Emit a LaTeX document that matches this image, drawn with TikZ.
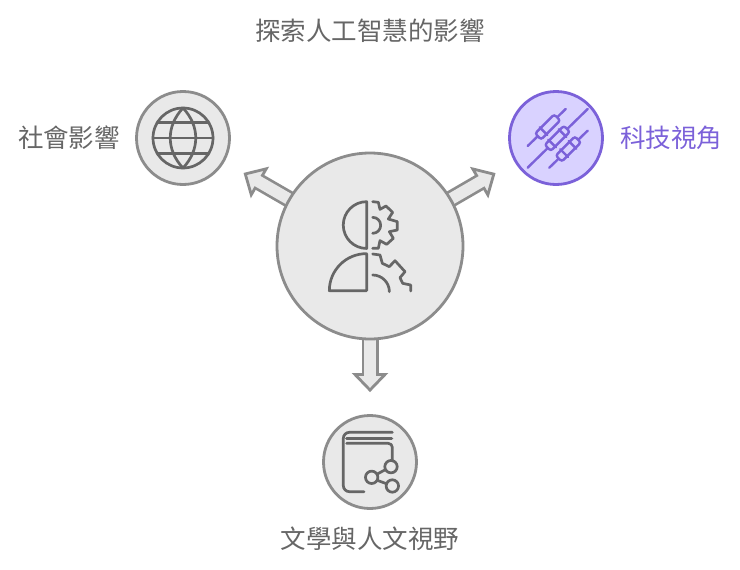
\documentclass[tikz,border=0pt]{standalone}
\usepackage{fontspec}
\setmainfont{Noto Sans CJK TC}
\usetikzlibrary{positioning}
\usetikzlibrary{arrows.meta}
\usetikzlibrary{backgrounds}
\usetikzlibrary{calc}
\definecolor{ringgray}{HTML}{8C8C8C}
\definecolor{fillgray}{HTML}{E9E9E9}
\definecolor{icongray}{HTML}{666666}
\definecolor{ringviolet}{HTML}{7B61D9}
\definecolor{fillviolet}{HTML}{D9D2FF}

\begin{document}
\begin{tikzpicture}[
		x=1pt, y=-1pt,
		% Style definitions for circles and labels
		hubdisc/.style={circle, draw=ringgray, fill=fillgray, line width=2.8pt, minimum size=186pt, inner sep=0pt},
		disc/.style={circle, draw=ringgray, fill=fillgray, line width=2.8pt, minimum size=93pt, inner sep=0pt},
		accentdisc/.style={disc, draw=ringviolet, fill=fillviolet},
		caption/.style={font=\fontsize{25.5}{30}\selectfont, text=icongray, inner sep=0pt},
		icon/.style={draw=icongray, line width=2.7pt, line join=round, line cap=round},
		accenticon/.style={icon, draw=ringviolet, line width=2.4pt},
		resistor/.style={draw=ringviolet, fill=fillviolet, line width=2.4pt, rounded corners=2.5pt, minimum width=27pt, minimum height=8.5pt, inner sep=0pt, rotate=45},
		% Block arrows are drawn in two passes
		blockline/.style={draw=ringgray, line width=17pt, shorten <=-8pt, shorten >=22pt, -{Triangle[length=19pt, width=36pt, fill=fillgray, color=ringgray, line width=2.8pt, sep=0pt]}},
		blockcore/.style={draw=fillgray, line width=11.6pt, shorten <=-8pt, shorten >=37pt},
		]
		\useasboundingbox (0,0) rectangle (740,570);

		% === Discs ===
		\node[hubdisc] (hub) at (370,246) {};
		\node[disc, above left=108pt and 187pt of hub.center, anchor=center] (society) {};
		\node[accentdisc, above right=108pt and 186pt of hub.center, anchor=center] (tech) {};
		\node[disc, below=216pt of hub.center, anchor=center] (books) {};

		% === Labels ===
		\node[caption, above=215pt of hub.center, anchor=center] (title) {探索人工智慧的影響};
		\node[caption, left=114pt of society.center, anchor=center] (societylabel) {社會影響};
		\node[caption, text=ringviolet, right=115pt of tech.center, anchor=center] (techlabel) {科技視角};
		\node[caption, below=77pt of books.center, anchor=center] (bookslabel) {文學與人文視野};

		% === Block arrows, tucked under the hub ===
		\begin{pgfonlayer}{background}
			\foreach \target in {society, tech, books} {
				\draw[blockline] (hub) -- (\target);
				\draw[blockcore] (hub) -- (\target);
			}
		\end{pgfonlayer}

		% === Hub icon: head and gears ===
		\begin{scope}[shift={(300,180)}, x=1pt/3, y=-1pt/3]
			\draw[icon] (200,65) arc[start angle=90, end angle=270, radius=23.4pt] -- cycle;
			\draw[icon] (200,222) -- (200,332) -- (88,332) arc[start angle=180, end angle=90, radius=37pt] -- cycle;
			\draw[icon] (218,65) -- (235,67) -- (240,88) -- (258,78) -- (278,97) -- (265,117) -- (292,125) -- (292,150) -- (268,155) -- (280,175) -- (260,193) -- (240,182) -- (235,205) -- (218,205);
			\draw[icon] (218,112) arc[start angle=90, end angle=-90, radius=8pt];
			\draw[icon] (218,222) -- (240,225) -- (247,250) -- (268,260) -- (285,242) -- (315,275) -- (300,293) -- (308,310) -- (332,315) -- (332,333);
			\draw[icon] (218,285) arc[start angle=90, end angle=0, radius=16.7pt];
		\end{scope}

		% === Society icon: globe ===
		\begin{scope}[shift={(society)}]
			\draw[icon] (0,0) circle[radius=30pt];
			\draw[icon] (-30,0) -- (30,0);
			\draw[icon] (-26,-15.5) -- (26,-15.5);
			\draw[icon] (-26,15.5) -- (26,15.5);
			\draw[icon] (0,-30) .. controls (-17,-12) and (-17,12) .. (0,30);
			\draw[icon] (0,-30) .. controls (17,-12) and (17,12) .. (0,30);
		\end{scope}

		% === Tech icon: resistors ===
		\begin{scope}[shift={(525,100)}, x=1pt/3, y=-1pt/3]
			\draw[accenticon] (8,138) -- (122,27);
			\draw[accenticon] (8,203) -- (188,27);
			\draw[accenticon] (73,203) -- (188,92);
			\node[resistor] (resistora) at (68,81) {};
			\node[resistor] (resistorb) at (97,115) {};
			\node[resistor] (resistorc) at (130,147) {};
			\foreach \res/\pos in {resistora/0.3, resistorb/0.25, resistorb/0.75, resistorc/0.3, resistorc/0.7} {
				\draw[accenticon] ($(\res.north west)!\pos!(\res.north east)$) -- ($(\res.south west)!\pos!(\res.south east)$);
			}
		\end{scope}

		% === Books icon: book and share ===
		\begin{scope}[shift={(335,425)}, x=1pt/3, y=-1pt/3]
			\draw[icon, rounded corners=6pt] (172,22) -- (25,22) -- (25,200) -- (87,200);
			\draw[icon, line width=3.2pt] (35,41) -- (170,41);
			\draw[icon, rounded corners=4pt] (35,55) -- (172,55) -- (172,108);
			\draw[icon] (168,125) circle[radius=6.2pt];
			\draw[icon] (110,157) circle[radius=6.2pt];
			\draw[icon] (172,183) circle[radius=6.2pt];
			\draw[icon] (127,147) -- (151,134);
			\draw[icon] (127,166) -- (154,176);
		\end{scope}
	\end{tikzpicture}
\end{document}
